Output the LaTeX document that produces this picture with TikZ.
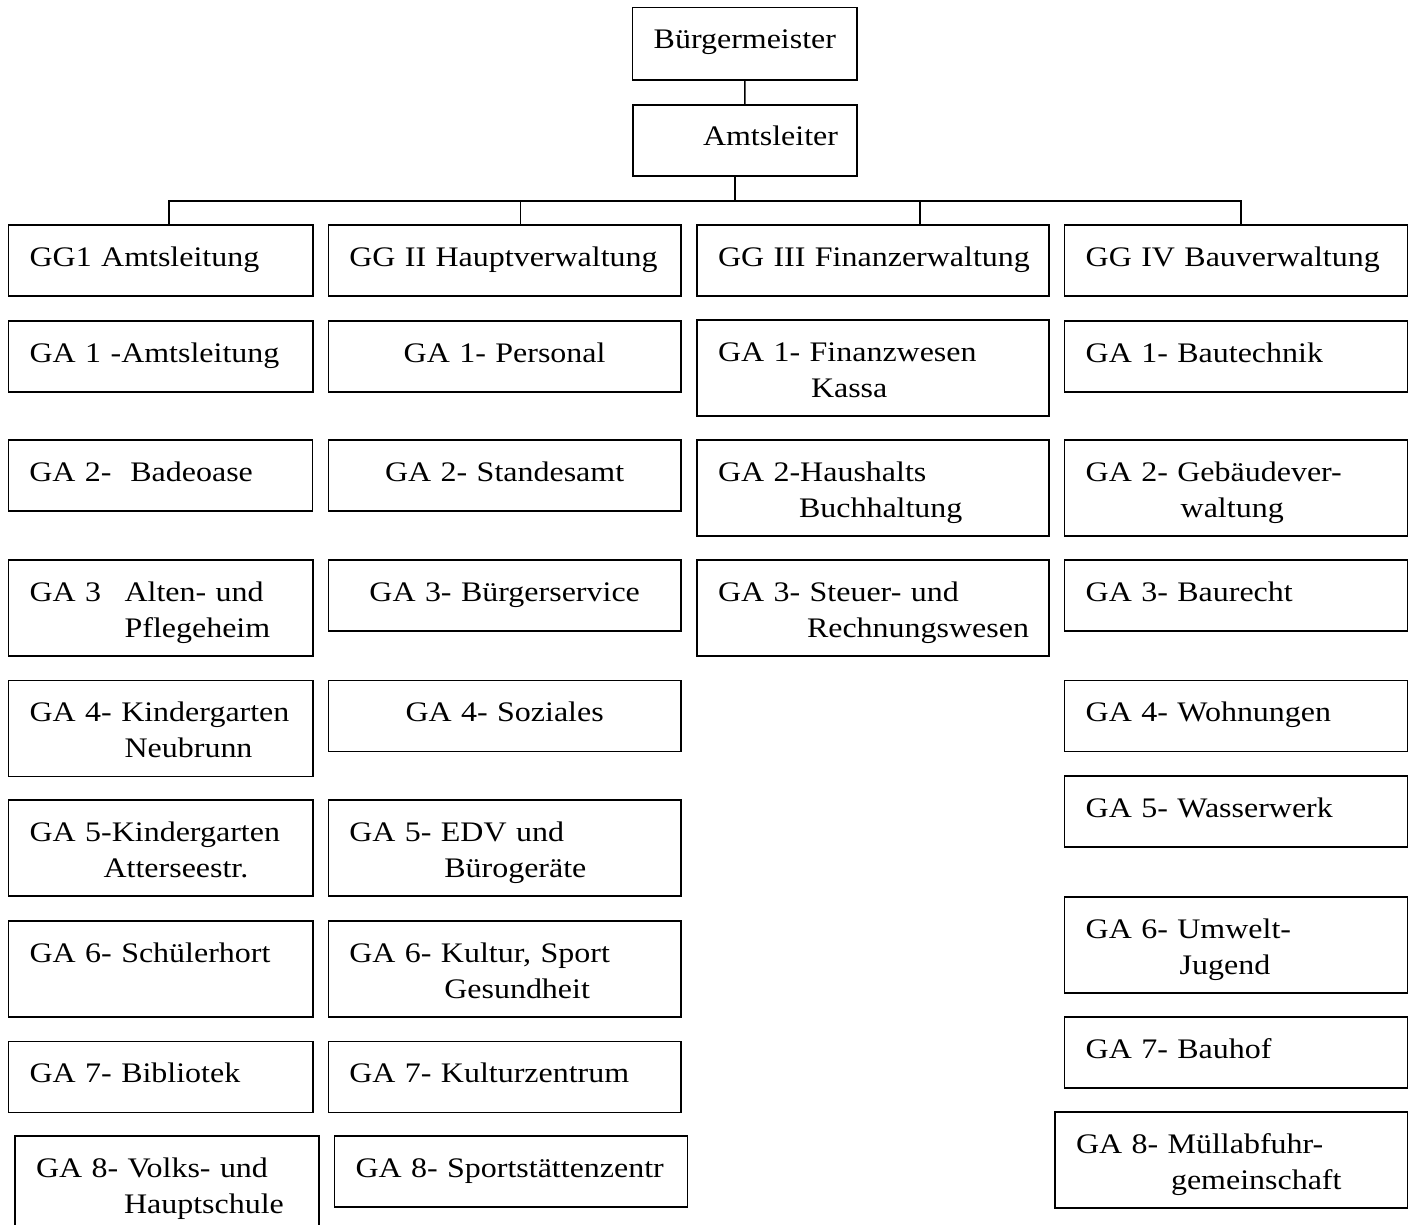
\documentclass[tikz,border=0pt]{standalone}
\usepackage{fontspec}
\setmainfont{Liberation Serif}[FakeStretch=1.13]
\usepackage{tikz}

\begin{document}
\begin{tikzpicture}[x=1pt,y=-1pt,
        unit/.style={draw,line width=1.5pt,anchor=north west,outer sep=0pt,inner xsep=0pt,inner ysep=0pt,
                align=left,text height=41pt,font=\fontsize{28.3pt}{36pt}\selectfont,
                execute at begin node={\leftskip=21pt}},
        mid/.style={execute at begin node={\leftskip=0pt plus 1fil\rightskip=0pt plus 1fil\parfillskip=0pt}},
        one/.style={text depth=30pt},
        two/.style={text depth=55pt},
        c1/.style={text width=304.4pt},
        c2/.style={text width=352.7pt},
        c3/.style={text width=352pt},
        c4/.style={text width=343pt},
        link/.style={line width=1.5pt}]
        \useasboundingbox (0,0) rectangle (1414,1225);

        \node[unit,mid,text width=224.5pt,text depth=31.6pt] (BM) at (632.6,7.4) {Bürgermeister};
        \node[unit,text width=224pt,one] (AL) at (633,105) {\hspace*{49pt}Amtsleiter};

        \node[unit,c1,one] (G1) at (8.6,225) {GG1 Amtsleitung};
        \node[unit,c1,one] (A11) at (8.6,321) {GA 1 -Amtsleitung};
        \node[unit,c1,one] (A12) at (8.3,440) {GA 2-~~Badeoase};
        \node[unit,c1,two] (A13) at (8.6,560) {\makebox[95pt][l]{GA 3}Alten- und\\\hspace*{95pt}Pflegeheim};
        \node[unit,c1,two] (A14) at (8.6,680.7) {GA 4- Kindergarten\\\hspace*{95pt}Neubrunn};
        \node[unit,c1,two] (A15) at (8.6,800) {GA 5-Kindergarten\\\hspace*{74pt}Atterseestr.};
        \node[unit,c1,two] (A16) at (8.6,921) {GA 6- Schülerhort};
        \node[unit,c1,one] (A17) at (8.6,1041.5) {GA 7- Bibliotek};
        \node[unit,text width=304pt,two] (A18) at (15,1136) {GA 8- Volks- und\\\hspace*{88pt}Hauptschule};

        \node[unit,c2,one] (G2) at (328.3,225) {GG II Hauptverwaltung};
        \node[unit,c2,one,mid] (A21) at (328.3,321) {GA 1- Personal};
        \node[unit,c2,one,mid] (A22) at (328.3,440) {GA 2- Standesamt};
        \node[unit,c2,one,mid] (A23) at (328.3,560) {GA 3- Bürgerservice};
        \node[unit,c2,one,mid] (A24) at (328.3,680.7) {GA 4- Soziales};
        \node[unit,c2,two] (A25) at (328.3,800) {GA 5- EDV und\\\hspace*{95pt}Bürogeräte};
        \node[unit,c2,two] (A26) at (328.3,921) {GA 6- Kultur, Sport\\\hspace*{95pt}Gesundheit};
        \node[unit,c2,one] (A27) at (328.3,1041.5) {GA 7- Kulturzentrum};
        \node[unit,text width=353pt,one] (A28) at (334.5,1136) {GA 8- Sportstättenzentr};

        \node[unit,c3,one] (G3) at (697,225) {GG III Finanzerwaltung};
        \node[unit,c3,two] (A31) at (697,320) {GA 1- Finanzwesen\\\hspace*{93pt}Kassa};
        \node[unit,c3,two] (A32) at (697,440) {GA 2-Haushalts\\\hspace*{81pt}Buchhaltung};
        \node[unit,c3,two] (A33) at (697,560) {GA 3- Steuer- und\\\hspace*{89pt}Rechnungswesen};

        \node[unit,c4,one] (G4) at (1064.7,225) {GG IV Bauverwaltung};
        \node[unit,c4,one] (A41) at (1064.7,321) {GA 1- Bautechnik};
        \node[unit,c4,two] (A42) at (1064.7,440) {GA 2- Gebäudever-\\\hspace*{95pt}waltung};
        \node[unit,c4,one] (A43) at (1064.7,560) {GA 3- Baurecht};
        \node[unit,c4,one] (A44) at (1064.7,680.7) {GA 4- Wohnungen};
        \node[unit,c4,one] (A45) at (1064.7,776) {GA 5- Wasserwerk};
        \node[unit,c4,two] (A46) at (1064.7,897) {GA 6- Umwelt-\\\hspace*{94pt}Jugend};
        \node[unit,c4,one] (A47) at (1064.7,1017) {GA 7- Bauhof};
        \node[unit,text width=352.5pt,two] (A48) at (1055,1112) {GA 8- Müllabfuhr-\\\hspace*{95pt}gemeinschaft};

        \coordinate (bus) at (735,201);

        \draw[link] (BM) -- (AL);
        \draw[link] ([xshift=-10pt]AL.south) -- (bus);
        \draw[link] ([xshift=8pt]G1.north) |- (bus) -| ([xshift=5pt]G4.north);
        \draw[link] ([xshift=16pt]G2.north) -- ([xshift=16pt]G2.north |- bus);
        \draw[link] ([xshift=47pt]G3.north) -- ([xshift=47pt]G3.north |- bus);
    \end{tikzpicture}
\end{document}
